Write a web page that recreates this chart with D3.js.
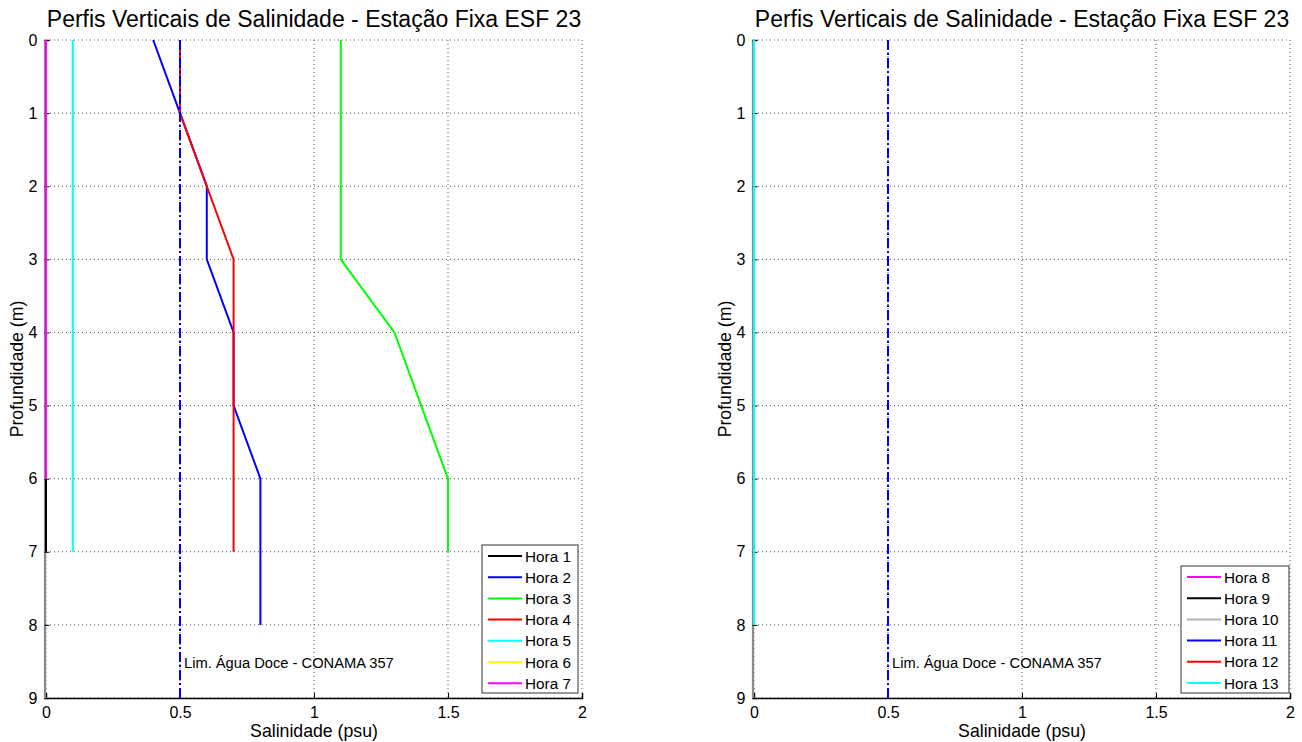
<!DOCTYPE html>
<html><head><meta charset="utf-8">
<script src="https://cdn.jsdelivr.net/npm/d3@7"></script>
<style>body{margin:0;background:#fff;} text{font-family:"Liberation Sans",Arial,sans-serif;}</style>
</head><body>
<svg id="c" width="1302" height="742"></svg>
<script>
const title = "Perfis Verticais de Salinidade - Estação Fixa ESF 23";
const xTicks = [0, 0.5, 1, 1.5, 2];
const yTicks = [0,1,2,3,4,5,6,7,8,9];
const limLabel = "Lim. Água Doce - CONAMA 357";
const limValue = 0.5;

// Left panel series (salinity per depth)
const leftNames = ["Hora 1","Hora 2","Hora 3","Hora 4","Hora 5","Hora 6","Hora 7"];
const leftColors = ["#000000","#0000ff","#00ff00","#ff0000","#00ffff","#ffff00","#ff00ff"];
const hora1 = [[0,0],[0,1],[0,2],[0,3],[0,4],[0,5],[0,6],[0,7]];
const hora2 = [[0.4,0],[0.5,1],[0.6,2],[0.6,3],[0.7,4],[0.7,5],[0.8,6],[0.8,7],[0.8,8]];
const hora3 = [[1.1,0],[1.1,1],[1.1,2],[1.1,3],[1.3,4],[1.4,5],[1.5,6],[1.5,7]];
const hora4 = [[0.5,0],[0.5,1],[0.6,2],[0.7,3],[0.7,4],[0.7,5],[0.7,6],[0.7,7]];
const hora5 = [[0.1,0],[0.1,1],[0.1,2],[0.1,3],[0.1,4],[0.1,5],[0.1,6],[0.1,7]];
const hora6 = [[0,0],[0,1],[0,2],[0,3],[0,4],[0,5],[0,6]];
const hora7 = [[0,0],[0,1],[0,2],[0,3],[0,4],[0,5],[0,6]];
const leftSeries = [hora1,hora2,hora3,hora4,hora5,hora6,hora7];

// Right panel series
const rightNames = ["Hora 8","Hora 9","Hora 10","Hora 11","Hora 12","Hora 13"];
const rightColors = ["#ff00ff","#000000","#b4b4b4","#0000ff","#ff0000","#00ffff"];
const hora8 = [[0,0],[0,1],[0,2],[0,3],[0,4],[0,5],[0,6],[0,7],[0,8]];
const hora9 = [[0,0],[0,1],[0,2],[0,3],[0,4],[0,5],[0,6],[0,7],[0,8]];
const hora10 = [[0,0],[0,1],[0,2],[0,3],[0,4],[0,5],[0,6],[0,7],[0,8]];
const hora11 = [[0,0],[0,1],[0,2],[0,3],[0,4],[0,5],[0,6],[0,7],[0,8]];
const hora12 = [[0,0],[0,1],[0,2],[0,3],[0,4],[0,5],[0,6],[0,7],[0,8]];
const hora13 = [[0,0],[0,1],[0,2],[0,3],[0,4],[0,5],[0,6],[0,7],[0,8]];
const rightSeries = [hora8,hora9,hora10,hora11,hora12,hora13];

const svg = d3.select("#c");

function panel(x0, x1, series, names, colors, legendBox) {
  const y0 = 40, y1 = 698;
  const x = d3.scaleLinear().domain([0,2]).range([x0,x1]);
  const y = d3.scaleLinear().domain([0,9]).range([y0,y1]);
  const g = svg.append("g");

  // grid
  g.selectAll(".gx").data(xTicks).enter().append("line")
    .attr("x1", d=>x(d)).attr("x2", d=>x(d)).attr("y1", y0).attr("y2", y1)
    .attr("stroke","#555").attr("stroke-width",1).attr("stroke-dasharray","1,3");
  g.selectAll(".gy").data(yTicks).enter().append("line")
    .attr("x1", x0).attr("x2", x1).attr("y1", d=>y(d)).attr("y2", d=>y(d))
    .attr("stroke","#555").attr("stroke-width",1).attr("stroke-dasharray","1,3");

  // axes
  const ax = d3.axisBottom(x).tickValues(xTicks).tickFormat(d3.format("")).tickSize(-5).tickPadding(9);
  const axg = g.append("g").attr("transform", `translate(0,${y1})`).call(ax);
  axg.select(".domain").attr("stroke","#000").attr("stroke-width",1.5);
  axg.selectAll("text").attr("font-size", 16).attr("font-family","Liberation Sans, Arial, sans-serif").attr("fill","#000");
  const ay = d3.axisLeft(y).tickValues(yTicks).tickFormat(d3.format("")).tickSize(-5).tickPadding(7);
  const ayg = g.append("g").attr("transform", `translate(${x0-1.5},0)`).call(ay);
  ayg.select(".domain").attr("stroke","#8a8a8a").attr("stroke-width",2.2);
  ayg.selectAll("text").attr("font-size", 16).attr("font-family","Liberation Sans, Arial, sans-serif").attr("fill","#000");

  // series
  const line = d3.line().x(d=>x(d[0])).y(d=>y(d[1]));
  series.forEach((s,i)=>{
    g.append("path").attr("d", line(s)).attr("fill","none")
      .attr("stroke", colors[i]).attr("stroke-width", 2);
  });

  // limit line (drawn on top of series)
  g.append("line").attr("x1", x(limValue)).attr("x2", x(limValue)).attr("y1", y0).attr("y2", y1)
    .attr("stroke","#0000ff").attr("stroke-width",2).attr("stroke-dasharray","10,3,2,3");

  // limit text
  g.append("text").attr("x", x(limValue)+4).attr("y", y(8.52)+5.5)
    .attr("font-size", 14.7).attr("fill","#000").text(limLabel);

  // title & labels
  const cx = (x0+x1)/2;
  g.append("text").attr("x", cx).attr("y", 27).attr("text-anchor","middle")
    .attr("font-size", 23).text(title);
  g.append("text").attr("x", cx).attr("y", 737).attr("text-anchor","middle")
    .attr("font-size", 17.7).text("Salinidade (psu)");
  g.append("text").attr("transform", `translate(${x0-23},${(y0+y1)/2}) rotate(-90)`)
    .attr("text-anchor","middle").attr("font-size", 17.7).text("Profundidade (m)");

  // legend
  const [lx, ly, lw, lh] = legendBox;
  const lg = g.append("g");
  lg.append("rect").attr("x", lx).attr("y", ly).attr("width", lw).attr("height", lh)
    .attr("fill","#fff").attr("stroke","#333").attr("stroke-width",1);
  const rowH = 21.2;
  names.forEach((n,i)=>{
    const yy = ly + 11 + i*rowH;
    lg.append("line").attr("x1", lx+6).attr("x2", lx+40).attr("y1", yy).attr("y2", yy)
      .attr("stroke", colors[i]).attr("stroke-width", 2);
    lg.append("text").attr("x", lx+43).attr("y", yy+5.5).attr("font-size", 15.3).text(n);
  });
}

panel(46, 582, leftSeries, leftNames, leftColors, [482, 545, 96, 148]);
panel(754, 1290, rightSeries, rightNames, rightColors, [1181, 566, 108, 127]);
</script>
</body></html>
